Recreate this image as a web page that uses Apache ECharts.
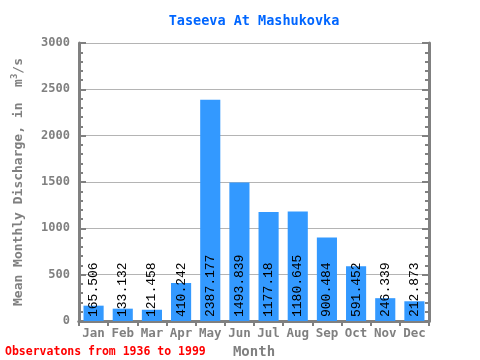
<!DOCTYPE html>
<html><head><meta charset="utf-8">
<script src="https://cdn.jsdelivr.net/npm/echarts@6/dist/echarts.min.js"></script>
<style>html,body{margin:0;padding:0;background:#fff}#c{width:480px;height:360px}</style>
</head><body><div id="c"></div>
<script>
var months = ["Jan","Feb","Mar","Apr","May","Jun","Jul","Aug","Sep","Oct","Nov","Dec"];
var discharge = [165.506,133.132,121.458,410.242,2387.177,1493.839,1177.18,1180.645,900.484,591.452,246.339,212.873];
var labels = ["165.506","133.132","121.458","410.242","2387.177","1493.839","1177.18","1180.645","900.484","591.452","246.339","212.873"];
var yTicks = [0,500,1000,1500,2000,2500,3000];

var gray = "#808080";
var mono = "'DejaVu Sans Mono', monospace";
var chart = echarts.init(document.getElementById('c'), null, {renderer:'canvas'});
var axisLine = {show:true, lineStyle:{color:gray, width:3}};
chart.setOption({
  animation:false,
  title:{text:"Taseeva At Mashukovka", left:249, textAlign:'center', top:9,
    textStyle:{color:"#0066ff", fontFamily:mono, fontWeight:'bold', fontSize:13.5}},
  grid:{left:79, right:51, top:43, bottom:39, containLabel:false, outerBoundsMode:'none'},
  graphic:[{type:'text', left:5, top:346, style:{text:"Observatons from 1936 to 1999", fill:"#ff0000",
    font:"bold 11.5px 'DejaVu Sans Mono', monospace"}}],
  xAxis:[{type:'category', data:months, position:'bottom',
    axisLine:axisLine, axisTick:{show:true, inside:false, length:4, interval:0, lineStyle:{color:gray, width:2}},
    axisLabel:{color:gray, fontFamily:mono, fontWeight:'bold', fontSize:12.5, margin:6, interval:0, hideOverlap:false},
    name:"Month", nameLocation:'middle', nameGap:21,
    nameTextStyle:{color:gray, fontFamily:mono, fontWeight:'bold', fontSize:14}},
    {type:'category', data:months, position:'top',
    axisLine:axisLine, axisTick:{show:true, inside:true, length:5, interval:0, lineStyle:{color:gray, width:2}},
    axisLabel:{show:false}}],
  yAxis:[{type:'value', min:0, max:3000, interval:500, position:'left',
    axisLine:axisLine, axisTick:{show:true, inside:true, length:7, lineStyle:{color:gray, width:2}},
    minorTick:{show:true, splitNumber:5, length:4, lineStyle:{color:gray, width:2}},
    splitLine:{show:true, lineStyle:{color:"#b4b4b4", width:1}},
    axisLabel:{color:gray, fontFamily:mono, fontWeight:'bold', fontSize:12, margin:9,
      formatter:function(v){return yTicks.indexOf(v)>=0? String(v):'';}},
    name:"{a|Mean Monthly Discharge, in  m}{s|3}{a|/s}", nameLocation:'middle', nameGap:52,
    nameTextStyle:{rich:{a:{color:gray, fontFamily:mono, fontWeight:'bold', fontSize:13},
      s:{color:gray, fontFamily:mono, fontWeight:'bold', fontSize:9, verticalAlign:'bottom', padding:[0,0,8,0]}}}},
    {type:'value', min:0, max:3000, interval:500, position:'right',
    axisLine:axisLine, axisTick:{show:true, inside:true, length:7, lineStyle:{color:gray, width:2}},
    minorTick:{show:true, splitNumber:5, length:4, lineStyle:{color:gray, width:2}},
    splitLine:{show:false}, axisLabel:{show:false}}],
  series:[{type:'bar', data:discharge, barWidth:'69%', itemStyle:{color:"#3399ff"},
    label:{show:true, position:'insideBottom', rotate:90, align:'left', verticalAlign:'middle', distance:4,
      color:"#000", fontFamily:"'Liberation Mono', monospace", fontSize:13,
      formatter:function(p){return labels[p.dataIndex];}}}]
});
</script></body></html>
